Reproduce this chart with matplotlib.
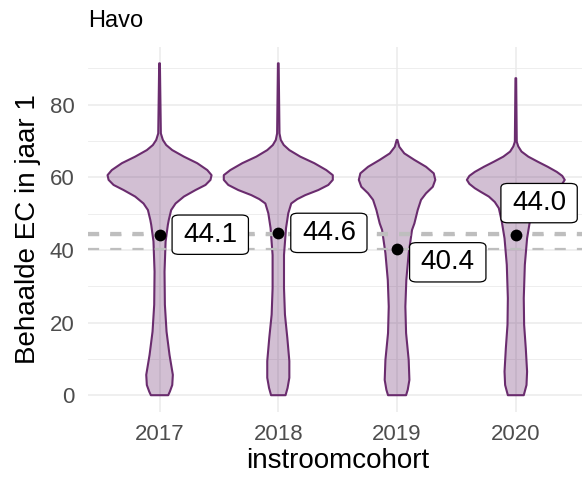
import numpy as np
import matplotlib
matplotlib.use('Agg')
import matplotlib.pyplot as plt

plt.rcParams['font.family'] = ['Liberation Sans', 'DejaVu Sans']

# Data
cohorts = ['2017', '2018', '2019', '2020']
means = [44.1, 44.6, 40.4, 44.0]
mean_labels = ['44.1', '44.6', '40.4', '44.0']

# violin outlines: EC levels and half-widths (x units) per cohort
levels_2017 = [0, 1.0, 2.8, 5.6, 11.1, 17.5, 24.9, 34.0, 42.3, 46.9, 48.3, 51.0, 52.8, 54.7,
               56.5, 57.9, 59.3, 60.6, 62.0, 63.9, 65.7, 67.5, 68.9, 70.3, 72.1, 91.4]
halfw_2017 = [0.073, 0.087, 0.107, 0.112, 0.084, 0.059, 0.045, 0.042, 0.051, 0.070, 0.078,
              0.098, 0.135, 0.205, 0.303, 0.387, 0.429, 0.438, 0.402, 0.317, 0.205, 0.107,
              0.056, 0.028, 0.011, 0.003]
levels_2018 = [0, 2.0, 4.8, 9.4, 15.8, 22.2, 29.5, 38.6, 46.0, 50.1, 52.8, 54.0, 55.1, 56.5,
               57.9, 59.3, 60.6, 62.0, 63.9, 65.7, 67.5, 68.9, 70.3, 72.1, 91.4]
halfw_2018 = [0.061, 0.078, 0.093, 0.093, 0.076, 0.056, 0.048, 0.048, 0.065, 0.084, 0.109,
              0.160, 0.227, 0.337, 0.421, 0.459, 0.459, 0.404, 0.303, 0.185, 0.093, 0.046,
              0.021, 0.010, 0.003]
levels_2019 = [0, 1.5, 4.2, 9.7, 17.1, 24.4, 31.7, 39.1, 45.5, 47.3, 51.0, 53.8, 55.6, 57.4,
               59.3, 61.1, 62.9, 64.8, 66.6, 68.4, 70.3]
halfw_2019 = [0.076, 0.090, 0.104, 0.098, 0.076, 0.070, 0.078, 0.098, 0.126, 0.146, 0.174,
              0.202, 0.244, 0.301, 0.322, 0.309, 0.244, 0.146, 0.061, 0.019, 0.003]
levels_2020 = [0, 2.8, 6.5, 12.9, 19.4, 26.7, 35.9, 43.2, 47.8, 51.5, 53.2, 54.7, 56.0, 57.0,
               58.2, 59.3, 60.4, 61.5, 62.9, 64.3, 65.7, 67.1, 68.5, 69.8, 87.3]
halfw_2020 = [0.067, 0.090, 0.095, 0.084, 0.070, 0.067, 0.076, 0.095, 0.118, 0.143, 0.177,
              0.227, 0.295, 0.345, 0.391, 0.412, 0.391, 0.345, 0.269, 0.185, 0.105, 0.048,
              0.021, 0.008, 0.003]

violin_levels = [levels_2017, levels_2018, levels_2019, levels_2020]
violin_halfw = [halfw_2017, halfw_2018, halfw_2019, halfw_2020]

# label placement (repel-style offsets)
label_dx = [0.427, 0.426, 0.427, 0.196]
label_y = [44.2, 44.7, 36.6, 52.9]

purple = '#6a2c6e'

fig = plt.figure(figsize=(5.82, 4.83), dpi=100)
ax = fig.add_axes([0.1517, 0.1472, 0.857, 0.7563])

xs = np.arange(1, len(cohorts) + 1)

# Violins
for x, lev, hw in zip(xs, violin_levels, violin_halfw):
    lev = np.array(lev)
    hw = np.array(hw)
    px = np.concatenate([x - hw, (x + hw)[::-1]])
    py = np.concatenate([lev, lev[::-1]])
    ax.fill(px, py, facecolor=purple, alpha=0.3, edgecolor='none', zorder=2)
    ax.fill(px, py, facecolor='none', edgecolor=purple, linewidth=1.5,
            joinstyle='round', zorder=3)

# Dashed mean lines
for m in means:
    ax.axhline(m, color='#bebebe', linewidth=1.6, linestyle=(0, (5, 5)), zorder=4)

# Mean points
ax.scatter(xs, means, s=72, color='black', zorder=5, linewidths=0)

# Labels
for x, dx, ly, txt in zip(xs, label_dx, label_y, mean_labels):
    ax.text(x + dx, ly, txt, fontsize=20, ha='center', va='center', zorder=6,
            bbox=dict(boxstyle='round,pad=0.4,rounding_size=0.25', facecolor='white',
                      edgecolor='black', linewidth=0.9, mutation_aspect=0.6))

ax.set_xlim(0.4, 4.6)
ax.set_ylim(-4.6, 96)
ax.set_xticks(xs)
ax.set_xticklabels(cohorts)
ax.set_yticks([0, 20, 40, 60, 80])
ax.set_yticks([10, 30, 50, 70, 90], minor=True)

ax.grid(which='major', color='#ebebeb', linewidth=1.1, zorder=0)
ax.grid(which='minor', axis='y', color='#ebebeb', linewidth=0.6, zorder=0)
ax.set_axisbelow(True)
for s in ax.spines.values():
    s.set_visible(False)

ax.tick_params(which='both', length=0, labelsize=16, labelcolor='#4d4d4d')
ax.tick_params(axis='y', pad=10)
ax.tick_params(axis='x', pad=9)

ax.set_xlabel('instroomcohort', fontsize=20, labelpad=2)
ax.set_ylabel('Behaalde EC in jaar 1', fontsize=20, labelpad=6)
ax.set_title('Havo', loc='left', fontsize=17, pad=14)

fig.savefig('out.png', dpi=100)
